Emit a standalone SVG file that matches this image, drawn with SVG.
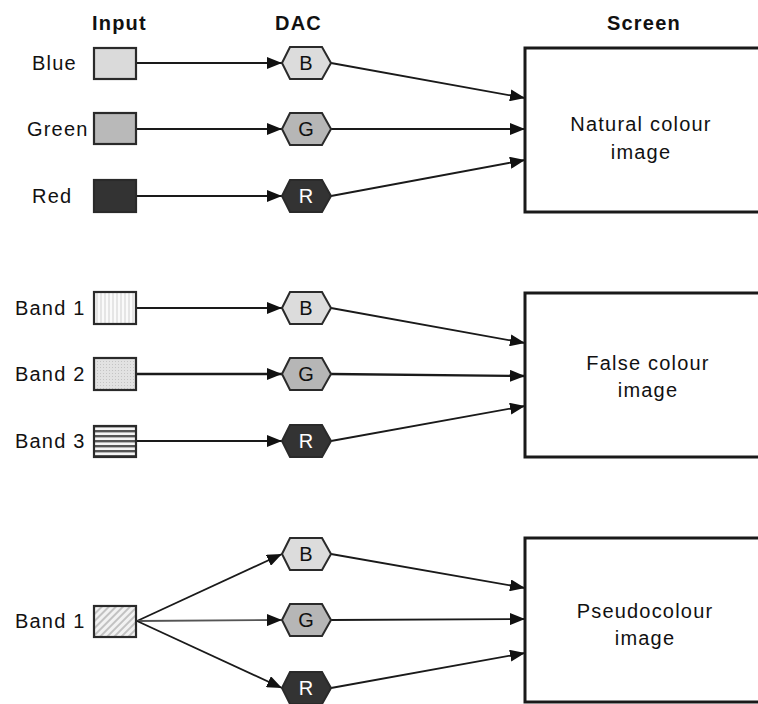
<svg xmlns="http://www.w3.org/2000/svg" width="758" height="704" viewBox="0 0 758 704">
  <defs>
    <marker id="arrow" markerUnits="userSpaceOnUse" markerWidth="16" markerHeight="12" refX="15" refY="6" orient="auto">
      <path d="M0,0 L15,6 L0,12 Z" fill="#111"/>
    </marker>
    <pattern id="vlines" width="4" height="4" patternUnits="userSpaceOnUse">
      <rect width="4" height="4" fill="#fafafa"/>
      <line x1="1" y1="0" x2="1" y2="4" stroke="#d0d0d0" stroke-width="1"/>
    </pattern>
    <pattern id="dots" width="3" height="3" patternUnits="userSpaceOnUse">
      <rect width="3" height="3" fill="#e2e2e2"/>
      <rect x="1" y="1" width="1" height="1" fill="#c4c4c4"/>
    </pattern>
    <pattern id="hlines" width="4" height="5" patternUnits="userSpaceOnUse">
      <rect width="4" height="5" fill="#f4f4f4"/>
      <rect y="0" width="4" height="2.4" fill="#555"/>
    </pattern>
    <pattern id="diag" width="5" height="5" patternUnits="userSpaceOnUse" patternTransform="rotate(45)">
      <rect width="5" height="5" fill="#f2f2f2"/>
      <rect width="2" height="5" fill="#c2c2c2"/>
    </pattern>
  </defs>
  <style>
    text { font-family: "Liberation Sans", Arial, sans-serif; fill: #111; }
    .head { font-size: 20px; font-weight: bold; letter-spacing: 1.2px; }
    .lbl { font-size: 20px; letter-spacing: 1.2px; }
    .in { stroke: #2a2a2a; stroke-width: 2.2; }
    .hex { stroke: #2a2a2a; stroke-width: 2; }
    .scr { fill: #fff; stroke: #1a1a1a; stroke-width: 3; }
    .scrtxt { font-size: 20px; letter-spacing: 1.2px; text-anchor: middle; }
    .hexB { fill: #dcdcdc; }
    .hexG { fill: #b6b6b6; }
    .hexR { fill: #333; }
    .ch { font-size: 20px; text-anchor: middle; }
    .wire { fill: none; stroke: #1a1a1a; stroke-width: 1.8; marker-end: url(#arrow); }
  </style>

  <rect width="758" height="704" fill="#fff"/>

  <!-- column headings -->
  <g id="headings">
    <text class="head" x="92" y="30">Input</text>
    <text class="head" x="275" y="30">DAC</text>
    <text class="head" x="607" y="30">Screen</text>
  </g>

  <!-- connectors -->
  <g id="connectors">
    <!-- natural colour -->
    <line class="wire" x1="136" y1="63" x2="282" y2="63"/>
    <line class="wire" x1="136" y1="129" x2="282" y2="129"/>
    <line class="wire" x1="136" y1="196" x2="282" y2="196"/>
    <line class="wire" x1="331" y1="63" x2="525" y2="98"/>
    <line class="wire" x1="331" y1="129" x2="525" y2="129"/>
    <line class="wire" x1="331" y1="196" x2="525" y2="160"/>
    <!-- false colour -->
    <line class="wire" x1="136" y1="308" x2="282" y2="308"/>
    <line class="wire" x1="136" y1="374" x2="282" y2="374" style="stroke-width:2.4"/>
    <line class="wire" x1="136" y1="441" x2="282" y2="441"/>
    <line class="wire" x1="331" y1="308" x2="525" y2="343"/>
    <line class="wire" x1="331" y1="374" x2="525" y2="376" style="stroke-width:2.4"/>
    <line class="wire" x1="331" y1="441" x2="525" y2="406"/>
    <!-- pseudocolour -->
    <line class="wire" x1="137" y1="621" x2="282" y2="554"/>
    <line class="wire" x1="137" y1="621" x2="282" y2="620" style="stroke:#555"/>
    <line class="wire" x1="137" y1="621" x2="282" y2="688"/>
    <line class="wire" x1="331" y1="554" x2="525" y2="588"/>
    <line class="wire" x1="331" y1="620" x2="525" y2="619"/>
    <line class="wire" x1="331" y1="688" x2="525" y2="653"/>
  </g>

  <!-- natural colour inputs -->
  <g id="in-blue">
    <text class="lbl" x="32" y="70">Blue</text>
    <rect class="in" x="94" y="48" width="42" height="31" fill="#dadada"/>
  </g>
  <g id="in-green">
    <text class="lbl" x="27" y="136">Green</text>
    <rect class="in" x="94" y="113" width="42" height="31" fill="#b9b9b9"/>
  </g>
  <g id="in-red">
    <text class="lbl" x="32" y="203">Red</text>
    <rect class="in" x="94" y="180" width="42" height="32" fill="#333"/>
  </g>

  <!-- false colour inputs -->
  <g id="in-band1">
    <text class="lbl" x="15" y="315">Band 1</text>
    <rect class="in" x="94" y="292" width="42" height="32" fill="url(#vlines)"/>
  </g>
  <g id="in-band2">
    <text class="lbl" x="15" y="381">Band 2</text>
    <rect class="in" x="94" y="358" width="42" height="32" fill="url(#dots)"/>
  </g>
  <g id="in-band3">
    <text class="lbl" x="15" y="448">Band 3</text>
    <rect class="in" x="94" y="426" width="42" height="31" fill="url(#hlines)"/>
  </g>

  <!-- pseudocolour input -->
  <g id="in-band1-pseudo">
    <text class="lbl" x="15" y="628">Band 1</text>
    <rect class="in" x="94" y="606" width="42" height="31" fill="url(#diag)"/>
  </g>

  <!-- DAC channels -->
  <g id="dac-b1">
    <polygon class="hex hexB" points="282,63 290,47 322,47 331,63 322,79 290,79"/>
    <text class="ch" x="306" y="70">B</text>
  </g>
  <g id="dac-g1">
    <polygon class="hex hexG" points="282,129 290,113 322,113 331,129 322,145 290,145"/>
    <text class="ch" x="306" y="136">G</text>
  </g>
  <g id="dac-r1">
    <polygon class="hex hexR" points="282,196 290,180 322,180 331,196 322,212 290,212"/>
    <text class="ch" x="306" y="203" style="fill:#fff">R</text>
  </g>

  <g id="dac-b2">
    <polygon class="hex hexB" points="282,308 290,292 322,292 331,308 322,324 290,324"/>
    <text class="ch" x="306" y="315">B</text>
  </g>
  <g id="dac-g2">
    <polygon class="hex hexG" points="282,374 290,358 322,358 331,374 322,390 290,390"/>
    <text class="ch" x="306" y="381">G</text>
  </g>
  <g id="dac-r2">
    <polygon class="hex hexR" points="282,441 290,425 322,425 331,441 322,457 290,457"/>
    <text class="ch" x="306" y="448" style="fill:#fff">R</text>
  </g>

  <g id="dac-b3">
    <polygon class="hex hexB" points="282,554 290,538 322,538 331,554 322,570 290,570"/>
    <text class="ch" x="306" y="561">B</text>
  </g>
  <g id="dac-g3">
    <polygon class="hex hexG" points="282,620 290,604 322,604 331,620 322,636 290,636"/>
    <text class="ch" x="306" y="627">G</text>
  </g>
  <g id="dac-r3">
    <polygon class="hex hexR" points="282,688 290,672 322,672 331,688 322,704 290,704"/>
    <text class="ch" x="306" y="695" style="fill:#fff">R</text>
  </g>

  <!-- screens -->
  <g id="screen-natural">
    <rect class="scr" x="525" y="48" width="260" height="164"/>
    <text class="scrtxt" x="641" y="131">Natural colour</text>
    <text class="scrtxt" x="641" y="159">image</text>
  </g>
  <g id="screen-false">
    <rect class="scr" x="525" y="293" width="260" height="164"/>
    <text class="scrtxt" x="648" y="370">False colour</text>
    <text class="scrtxt" x="648" y="397">image</text>
  </g>
  <g id="screen-pseudo">
    <rect class="scr" x="525" y="538" width="260" height="164"/>
    <text class="scrtxt" x="645" y="618">Pseudocolour</text>
    <text class="scrtxt" x="645" y="645">image</text>
  </g>
</svg>
